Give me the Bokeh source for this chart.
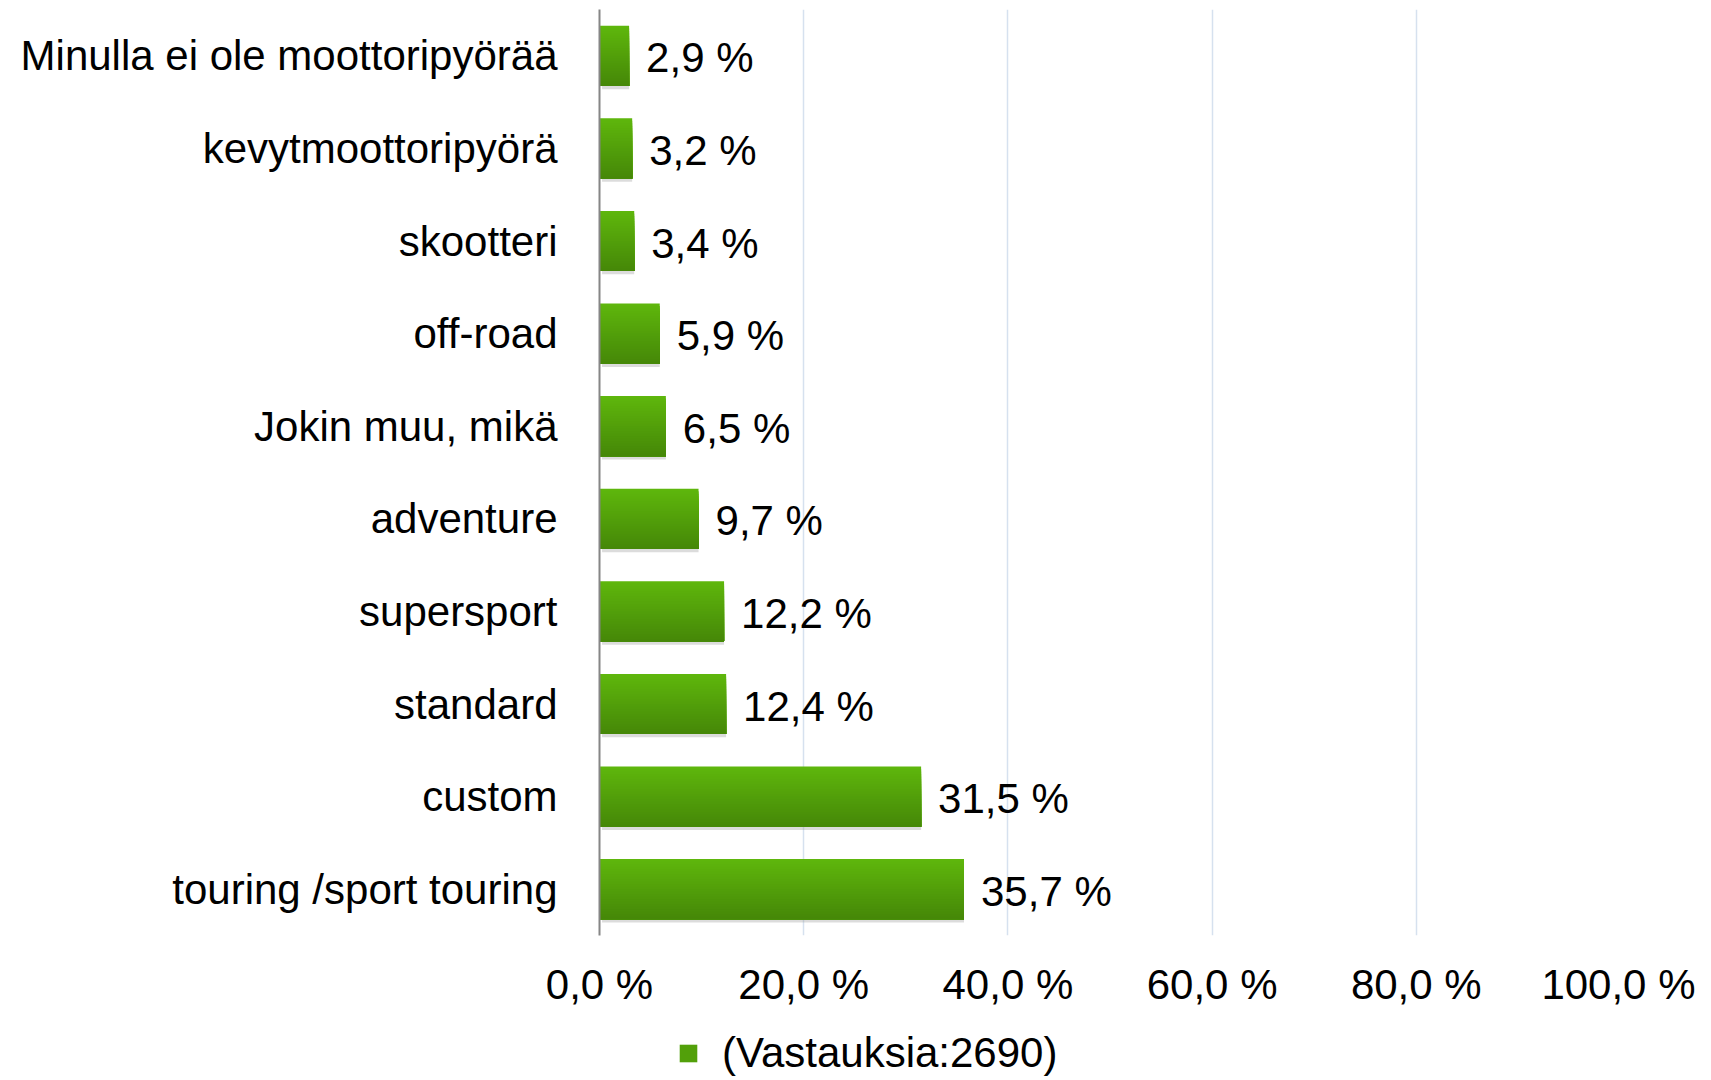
from bokeh.plotting import figure
from bokeh.layouts import column
from bokeh.models import (FactorRange, ColumnDataSource, FixedTicker, Legend, LegendItem)
from bokeh.transform import dodge
from bokeh.core.properties import value
from bokeh.embed import file_html
from bokeh.resources import INLINE

# ---- data (top to bottom as in the chart) ----
categories = ["Minulla ei ole moottoripyörää", "kevytmoottoripyörä", "skootteri",
              "off-road", "Jokin muu, mikä", "adventure", "supersport", "standard",
              "custom", "touring /sport touring"]
shares = [2.9, 3.2, 3.4, 5.9, 6.5, 9.7, 12.2, 12.4, 31.5, 35.7]
x_ticks = [0, 20, 40, 60, 80, 100]
series_name = "(Vastauksia:2690)"

FONT = "Liberation Sans"
labels = [f"{v:.1f}".replace(".", ",") + " %" for v in shares]
src = ColumnDataSource(dict(cat=categories, val=shares, lab=labels))

p = figure(frame_width=1021, frame_height=926, output_backend="svg", toolbar_location=None,
           y_range=FactorRange(factors=categories[::-1], range_padding=0),
           x_range=(0, 100),
           min_border_left=599, min_border_right=75, min_border_top=9, min_border_bottom=74)
p.outline_line_color = None
p.background_fill_color = "white"

# shadow
p.hbar(y=dodge("cat", -0.035, range=p.y_range), left=0.25, right="val", height=0.65,
       source=src, fill_color="#9a9a9a", fill_alpha=0.35, line_color=None)

# gradient bars: stacked strips, each from its top edge down to the bar bottom
N = 24
h_total = 0.65
h = h_total / N
top_rgb = (94, 182, 12)
bot_rgb = (70, 136, 8)
for k in range(N):
    t = k / (N - 1)
    c = tuple(int(round(top_rgb[i] + (bot_rgb[i] - top_rgb[i]) * t)) for i in range(3))
    col = "#%02x%02x%02x" % c
    top = h_total / 2 - k * h
    bottom = -h_total / 2
    p.hbar(y=dodge("cat", (top + bottom) / 2, range=p.y_range), left=0, right="val",
           height=top - bottom, source=src, fill_color=col, line_color=None)

# value labels
p.text(x="val", y="cat", text="lab", source=src, x_offset=17, y_offset=2,
       text_font=value(FONT), text_font_size="42px", text_color="black",
       text_align="left", text_baseline="middle")

# axes
p.xaxis.ticker = FixedTicker(ticks=x_ticks)
p.xaxis.major_label_overrides = {t: f"{t:.1f}".replace(".", ",") + " %" for t in x_ticks}
p.xaxis.axis_line_color = None
p.xaxis.major_tick_line_color = None
p.xaxis.minor_tick_line_color = None
p.xaxis.major_label_text_font = FONT
p.xaxis.major_label_text_font_size = "42px"
p.xaxis.major_label_text_color = "black"
p.xaxis.major_label_standoff = 19

p.yaxis.axis_line_color = "#868686"
p.yaxis.axis_line_width = 2
p.yaxis.major_tick_line_color = None
p.yaxis.minor_tick_line_color = None
p.yaxis.major_label_text_font = FONT
p.yaxis.major_label_text_font_size = "42px"
p.yaxis.major_label_text_color = "black"
p.yaxis.major_label_standoff = 36

p.xgrid.grid_line_color = "#d6e1ef"
p.xgrid.grid_line_width = 1.5
p.ygrid.grid_line_color = None

# ---- legend strip below the chart (its frame is aligned with the chart frame) ----
pl = figure(width=1695, height=69, output_backend="svg", toolbar_location=None,
            x_range=(0, 1), y_range=(0, 1), min_border=0)
pl.axis.visible = False
pl.grid.grid_line_color = None
pl.outline_line_color = None
# legend-only renderer (lies outside the visible range)
key = pl.hbar(y=[-5], left=[0], right=[1], height=0.5, fill_color="#52a00a", line_color=None)
legend = Legend(items=[LegendItem(label=series_name, renderers=[key])],
                location=(78, 2), orientation="horizontal",
                glyph_width=22, glyph_height=22, label_standoff=23,
                label_text_font=FONT, label_text_font_size="42px", label_text_color="black",
                padding=0, margin=0, border_line_color=None, background_fill_alpha=0)
pl.add_layout(legend, "center")

layout = column(p, pl, spacing=0)
open("out.html", "w").write(file_html(layout, INLINE))
